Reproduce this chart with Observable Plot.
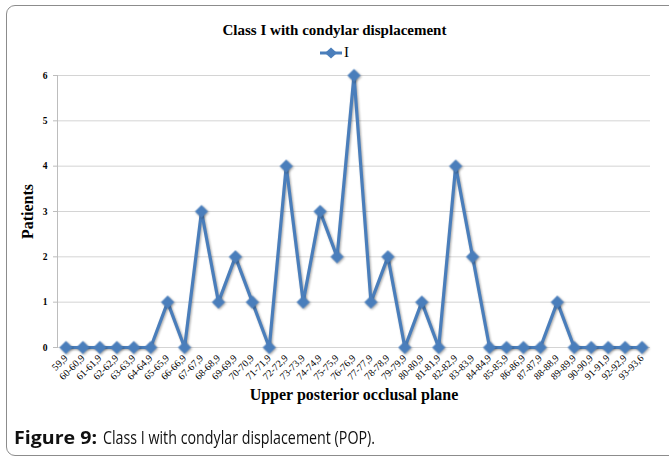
<!DOCTYPE html>
<html>
<head>
<meta charset="utf-8">
<script src="https://cdn.jsdelivr.net/npm/d3@7"></script>
<script src="https://cdn.jsdelivr.net/npm/@observablehq/plot@0.6"></script>
<style>
  html, body { margin: 0; padding: 0; background: #fff; overflow: hidden; }
  #page { position: relative; width: 669px; height: 461px; }
  #box { position: absolute; left: 6px; top: 5px; width: 700px; height: 451px;
         border: 1.5px solid #8c8c8c; border-radius: 9px; box-sizing: border-box; }
  #title { position: absolute; left: 0; width: 669px; top: 21px; text-align: center;
           font: bold 15px "Liberation Serif", serif; line-height: 18px; color: #000; }
  #legend { position: absolute; left: 0; width: 669px; top: 43px; text-align: center;
            font: 15px "Liberation Serif", serif; line-height: 18px; color: #000; }
  #legend svg { vertical-align: middle; margin-right: 2px; position: relative; top: -1px; }
  #chart { position: absolute; left: 0; top: 60px; }
  .cap { position: absolute; top: 426px; font: 17.5px "Open Sans", sans-serif;
         line-height: 22px; color: #111; white-space: nowrap; transform-origin: 0 50%; }
  #chart svg .pts { filter: drop-shadow(1px 1px 1px rgba(0,0,0,0.35)); }
</style>
</head>
<body>
<div id="page">
  <div id="box"></div>
  <div id="title">Class I with condylar displacement</div>
  <div id="legend"></div>
  <div id="chart"></div>
  <span class="cap" id="cap1" style="left:14px;font-weight:bold">Figure 9:</span>
  <span class="cap" id="cap2" style="left:103px">Class I with condylar displacement (POP).</span>
</div>
<script>
const categories = ["59,9","60-60,9","61-61,9","62-62,9","63-63,9","64-64,9","65-65,9","66-66,9",
  "67-67,9","68-68,9","69-69,9","70-70,9","71-71,9","72-72,9","73-73,9","74-74,9","75-75,9",
  "76-76,9","77-77,9","78-78,9","79-79,9","80-80,9","81-81,9","82-82,9","83-83,9","84-84,9",
  "85-85,9","86-86,9","87-87,9","88-88,9","89-89,9","90-90,9","91-91,9","92-92,9","93-93,6"];
const patients = [0,0,0,0,0,0,1,0,3,1,2,1,0,4,1,3,2,6,1,2,0,1,0,4,2,0,0,0,0,1,0,0,0,0,0];
const yTicks = [0,1,2,3,4,5,6];
const seriesName = "I";

const data = categories.map((c, i) => ({cat: c, val: patients[i]}));
const blue = "#4a7ebb";

// legend
const leg = d3.select("#legend");
const ls = leg.append("svg").attr("width", 22).attr("height", 12);
ls.append("line").attr("x1", 0).attr("x2", 22).attr("y1", 6).attr("y2", 6).attr("stroke", blue).attr("stroke-width", 3);
ls.append("path").attr("d", "M11,0.5L17,6L11,11.5L5,6Z").attr("fill", blue);
leg.append("span").text(seriesName);

const chart = Plot.plot({
  width: 669,
  height: 345,
  marginLeft: 57,
  marginRight: 19,
  marginTop: 15,
  marginBottom: 58,
  style: {fontFamily: "'Liberation Serif', serif", background: "transparent", overflow: "visible"},
  x: {type: "point", domain: categories, padding: 0.5},
  y: {domain: [0, 6], ticks: yTicks},
  marks: [
    Plot.gridY(yTicks, {stroke: "#d4d4d4", strokeOpacity: 1}),
    Plot.frame({anchor: "left", stroke: "#bdbdbd"}),
    Plot.axisY(yTicks, {tickSize: 4, tickPadding: 6, stroke: "#bdbdbd", fontSize: 9.5, fontWeight: "bold",
      label: "Patients", labelAnchor: "center", labelArrow: "none", labelOffset: 36}),
    Plot.axisX({tickSize: 0, tickPadding: 9, tickRotate: -45, fontSize: 10,
      label: "Upper posterior occlusal plane", labelAnchor: "center", labelArrow: "none", labelOffset: 52}),
    Plot.line(data, {x: "cat", y: "val", stroke: blue, strokeWidth: 3.2, className: "pts"}),
    Plot.dot(data, {x: "cat", y: "val", symbol: "diamond2", r: 5.7, fill: blue, stroke: "#5b8fcf", strokeWidth: 0.5, className: "pts"})
  ]
});
document.getElementById("chart").appendChild(chart);
// style axis labels
d3.select(chart).selectAll("[aria-label='y-axis label'] text, [aria-label='x-axis label'] text")
  .attr("font-size", 16).attr("font-weight", "bold");

// fit caption pieces to their measured widths in the reference
function fit(id, w) {
  const el = document.getElementById(id);
  const cw = el.getBoundingClientRect().width;
  el.style.transform = `scaleX(${w / cw})`;
}
fit("cap1", 83);
fit("cap2", 272);
</script>
</body>
</html>
